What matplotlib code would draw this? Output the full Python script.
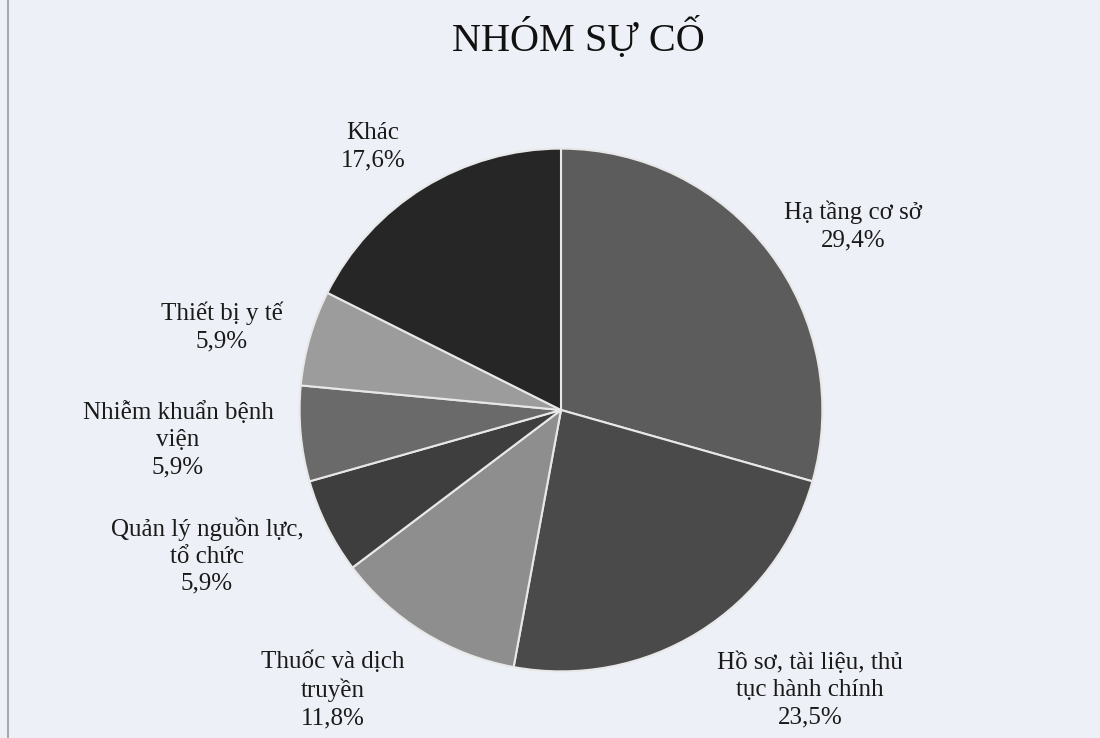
import matplotlib
matplotlib.use('Agg')
import matplotlib.pyplot as plt

### Data
categories = ['Hạ tầng cơ sở', 'Hồ sơ, tài liệu, thủ\ntục hành chính', 'Thuốc và dịch\ntruyền',
              'Quản lý nguồn lực,\ntổ chức', 'Nhiễm khuẩn bệnh\nviện', 'Thiết bị y tế', 'Khác']
shares = [29.4, 23.5, 11.8, 5.9, 5.9, 5.9, 17.6]
colors = ['#5c5c5c', '#4a4a4a', '#8e8e8e', '#3e3e3e', '#6a6a6a', '#9c9c9c', '#262626']

# label centres in figure pixels (x, y from top)
label_pos = [(853, 226), (810, 690), (333, 690), (207, 556), (178, 440), (222, 327), (373, 147)]

W, H = 1100, 738
bg = '#edf0f6'
cx, cy, r = 561, 410, 264

plt.rcParams['font.family'] = ['Liberation Serif', 'DejaVu Serif']

fig = plt.figure(figsize=(W / 100, H / 100), dpi=100, facecolor=bg)
ax = fig.add_axes([(cx - r) / W, (H - cy - r) / H, 2 * r / W, 2 * r / H])
ax.set_facecolor(bg)

ax.pie(shares, colors=colors, startangle=90, counterclock=False, radius=1,
       wedgeprops=dict(edgecolor='#e8e8e8', linewidth=1.5))
ax.set_xlim(-1.01, 1.01)
ax.set_ylim(-1.01, 1.01)
ax.set_aspect('equal')
ax.axis('off')

for name, val, (px, py) in zip(categories, shares, label_pos):
    txt = f"{name}\n{val:.1f}%".replace('.', ',')
    fig.text(px / W, 1 - py / H, txt, ha='center', va='center', fontsize=18,
             linespacing=1.3, color='#1a1a1a')

fig.text(578 / W, 1 - 39 / H, 'NHÓM SỰ CỐ', ha='center', va='center', fontsize=29, color='#111111')

# scanned page edge on the left
fig.add_artist(plt.Line2D([8 / W, 8 / W], [0, 1], color='#a8aab0', linewidth=1.5))

fig.savefig('out.png', dpi=100, facecolor=bg)
